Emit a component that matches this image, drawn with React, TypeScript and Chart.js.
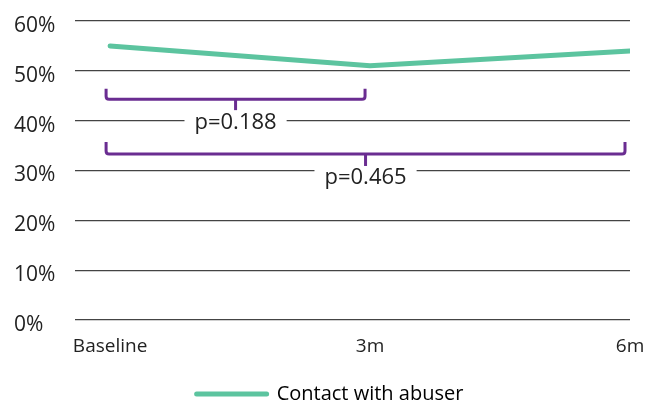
import React, { useEffect, useRef } from "react";
import { Chart, registerables } from "chart.js";

Chart.register(...registerables);

const categories = ["Baseline", "3m", "6m"];
const contactWithAbuser = [55, 51, 54];
const seriesLabel = "Contact with abuser";
const yTickValues = [0, 10, 20, 30, 40, 50, 60];
const comparisonFrom = [0, 0];
const comparisonTo = [1, 2];
const comparisonLabels = ["p=0.188", "p=0.465"];

const GREEN = "#5CC49F";
const PURPLE = "#6A2D91";
const FONT = "'Open Sans', sans-serif";

// bracket vertical layout in data units (top of arms, bar, tick bottom, label centre)
const bracketLevels = [
  { top: 46.4, bar: 44.3, tick: 42.1, text: 39.6 },
  { top: 35.7, bar: 33.3, tick: 30.8, text: 28.5 },
];

const bracketPlugin = {
  id: "brackets",
  afterDatasetsDraw(chart: any) {
    const { ctx } = chart;
    const xs = chart.scales.x;
    const ys = chart.scales.y;
    comparisonLabels.forEach((label, i) => {
      const lv = bracketLevels[i];
      const x1 = xs.getPixelForValue(comparisonFrom[i]) - 4;
      const x2 = xs.getPixelForValue(comparisonTo[i]) - 5;
      const yt = ys.getPixelForValue(lv.top);
      const yb = ys.getPixelForValue(lv.bar);
      const yk = ys.getPixelForValue(lv.tick);
      const ytx = ys.getPixelForValue(lv.text);
      const xc = (x1 + x2) / 2;
      const r = 3;
      ctx.save();
      ctx.strokeStyle = PURPLE;
      ctx.lineWidth = 3;
      ctx.lineJoin = "round";
      ctx.beginPath();
      ctx.moveTo(x1, yt);
      ctx.lineTo(x1, yb - r);
      ctx.quadraticCurveTo(x1, yb, x1 + r, yb);
      ctx.lineTo(x2 - r, yb);
      ctx.quadraticCurveTo(x2, yb, x2, yb - r);
      ctx.lineTo(x2, yt);
      ctx.stroke();
      ctx.beginPath();
      ctx.moveTo(xc, yb);
      ctx.lineTo(xc, yk);
      ctx.stroke();
      ctx.font = `22px ${FONT}`;
      const w = ctx.measureText(label).width;
      ctx.fillStyle = "#ffffff";
      ctx.fillRect(xc - w / 2 - 10, ytx - 12, w + 20, 24);
      ctx.fillStyle = "#222222";
      ctx.textAlign = "center";
      ctx.textBaseline = "middle";
      ctx.fillText(label, xc, ytx);
      ctx.restore();
    });
  },
};

export default function App() {
  const ref = useRef<HTMLCanvasElement | null>(null);
  useEffect(() => {
    document.body.style.margin = "0";
    if (!ref.current) return;
    const chart = new Chart(ref.current, {
      type: "line",
      data: {
        datasets: [
          {
            label: seriesLabel,
            data: contactWithAbuser.map((v, i) => ({ x: i, y: v })),
            borderColor: GREEN,
            backgroundColor: GREEN,
            borderWidth: 5,
            pointRadius: 0,
            tension: 0,
            borderCapStyle: "round",
          },
        ],
      },
      options: {
        animation: false,
        responsive: false,
        layout: { padding: { left: 14, top: 21, right: 0, bottom: -9 } },
        scales: {
          x: {
            type: "linear",
            min: -0.135,
            max: 2,
            afterBuildTicks: (s: any) => {
              s.ticks = categories.map((_, i) => ({ value: i }));
            },
            afterFit: (s: any) => {
              s.paddingRight = 16;
              s.paddingLeft = 0;
              s.height = 62;
            },
            ticks: {
              autoSkip: false,
              maxRotation: 0,
              padding: 7,
              color: "#222",
              font: { family: FONT, size: 19 },
              callback: (v: any) => categories[v as number] ?? "",
            },
            grid: { display: false },
            border: { display: false },
          },
          y: {
            min: 0,
            max: 60,
            afterBuildTicks: (s: any) => {
              s.ticks = yTickValues.map((v) => ({ value: v }));
            },
            afterFit: (s: any) => {
              s.width = 61;
              s.paddingTop = 0;
              s.paddingBottom = 0;
            },
            ticks: {
              crossAlign: "far",
              labelOffset: 5,
              color: "#222",
              font: { family: FONT, size: 21 },
              callback: (v: any) => v + "%",
            },
            grid: { color: "#444", lineWidth: 1.2, drawTicks: false },
            border: { display: false },
          },
        },
        plugins: {
          tooltip: { enabled: false },
          legend: {
            position: "bottom",
            labels: {
              usePointStyle: true,
              pointStyleWidth: 70,
              boxHeight: 8,
              color: "#222",
              font: { family: FONT, size: 20 },
              padding: 2,
              generateLabels: () => [
                {
                  text: seriesLabel,
                  pointStyle: "line",
                  strokeStyle: GREEN,
                  fillStyle: GREEN,
                  lineWidth: 5,
                  lineCap: "round",
                  hidden: false,
                  datasetIndex: 0,
                } as any,
              ],
            },
          },
        },
      } as any,
      plugins: [bracketPlugin],
    });
    return () => chart.destroy();
  }, []);
  return <canvas ref={ref} width={646} height={405} style={{ display: "block" }} />;
}
